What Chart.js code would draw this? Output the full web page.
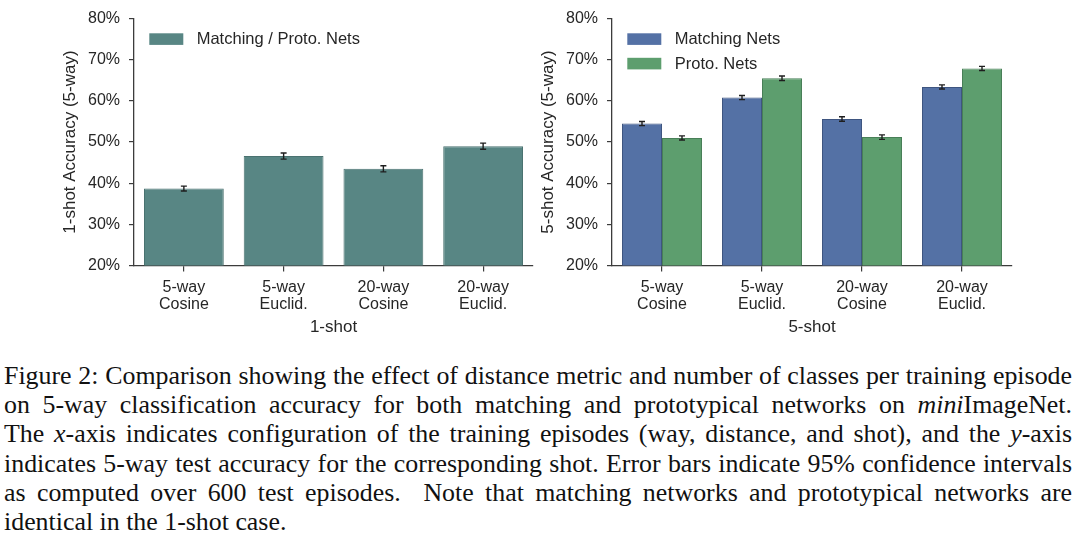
<!DOCTYPE html>
<html>
<head>
<meta charset="utf-8">
<script src="https://cdn.jsdelivr.net/npm/chart.js@4"></script>
<style>
  html, body { margin: 0; padding: 0; background: #fff; }
  body { width: 1080px; height: 536px; position: relative; overflow: hidden; }
  .panel { position: absolute; top: 0; }
  #caption {
    position: absolute; left: 4px; top: 361px; width: 1068px;
    font-family: "Liberation Serif", "Times New Roman", serif;
    font-size: 26px; line-height: 29.2px; color: #111;
  }
  #caption div { white-space: nowrap; text-align: justify; text-align-last: justify; }
  #caption div.last { text-align-last: left; }
</style>
</head>
<body>
<div class="panel" style="left:0px"><canvas id="left" width="540" height="342"></canvas></div>
<div class="panel" style="left:530px"><canvas id="right" width="550" height="342"></canvas></div>
<div id="caption">
  <div>Figure 2: Comparison showing the effect of distance metric and number of classes per training episode</div>
  <div>on 5-way classification accuracy for both matching and prototypical networks on <i>mini</i>ImageNet.</div>
  <div>The <i>x</i>-axis indicates configuration of the training episodes (way, distance, and shot), and the <i>y</i>-axis</div>
  <div>indicates 5-way test accuracy for the corresponding shot. Error bars indicate 95% confidence intervals</div>
  <div>as computed over 600 test episodes.&nbsp; Note that matching networks and prototypical networks are</div>
  <div class="last">identical in the 1-shot case.</div>
</div>
<script>
// values (percent)
const categories = [['5-way', 'Cosine'], ['5-way', 'Euclid.'], ['20-way', 'Cosine'], ['20-way', 'Euclid.']];
const oneShotAcc = [38.7, 46.6, 43.5, 49.0];
const oneShotErr = [0.6, 0.75, 0.75, 0.75];
const matchingAcc = [54.5, 60.8, 55.6, 63.4];
const matchingErr = [0.5, 0.5, 0.55, 0.5];
const protoAcc = [51.0, 65.5, 51.2, 67.9];
const protoErr = [0.5, 0.55, 0.55, 0.5];
const yMin = 20, yMax = 80, yStep = 10;

const textColor = '#262626';
const axisColor = '#3c3c3c';
const sansFont = "'Liberation Sans', Arial, sans-serif";

// draws the 95% CI whiskers on top of each bar
const errorBars = {
    id: 'errorBars',
    afterDatasetsDraw(chart) {
        const ctx = chart.ctx;
        const y = chart.scales.y;
        ctx.save();
        ctx.strokeStyle = '#1e1e1e';
        ctx.lineWidth = 1.4;
        chart.data.datasets.forEach((ds, i) => {
            chart.getDatasetMeta(i).data.forEach((bar, j) => {
                const top = y.getPixelForValue(ds.data[j] + ds.errors[j]);
                const bot = y.getPixelForValue(ds.data[j] - ds.errors[j]);
                ctx.beginPath();
                ctx.moveTo(bar.x, top); ctx.lineTo(bar.x, bot);
                ctx.moveTo(bar.x - 3, top); ctx.lineTo(bar.x + 3, top);
                ctx.moveTo(bar.x - 3, bot); ctx.lineTo(bar.x + 3, bot);
                ctx.stroke();
            });
        });
        ctx.restore();
    }
};

// legend inside the plot, top-left, like matplotlib
const innerLegend = {
    id: 'innerLegend',
    afterDraw(chart) {
        const ctx = chart.ctx;
        const area = chart.chartArea;
        ctx.save();
        chart.data.datasets.forEach((ds, i) => {
            const bx = area.left + 15.3;
            const by = area.top + 14.7 + i * 24.5;
            ctx.fillStyle = ds.backgroundColor;
            ctx.fillRect(bx, by, 34, 11.6);
            ctx.fillStyle = textColor;
            ctx.font = '16.5px ' + sansFont;
            ctx.textBaseline = 'alphabetic';
            ctx.fillText(ds.label, area.left + 62.7, area.top + 25.7 + i * 24.5);
        });
        ctx.restore();
    }
};

function makeOptions(shotLabel, padLeft, padRight) {
    return {
        responsive: false,
        animation: false,
        layout: { padding: { left: padLeft, right: padRight, top: 17, bottom: 0 } },
        plugins: { legend: { display: false }, tooltip: { enabled: false } },
        scales: {
            x: {
                grid: { drawOnChartArea: false, drawTicks: true, tickLength: 6, offset: false, color: axisColor, lineWidth: 1.2 },
                border: { display: true, color: axisColor, width: 1.3 },
                ticks: { color: textColor, font: { family: sansFont, size: 16, lineHeight: 1.1 }, padding: 7, maxRotation: 0 },
                title: { display: true, text: shotLabel, color: textColor, font: { family: sansFont, size: 17 } },
                afterFit(s) { s.height = 76.5; }
            },
            y: {
                min: yMin, max: yMax,
                grid: { drawOnChartArea: false, drawTicks: true, tickLength: 5, color: axisColor, lineWidth: 1.2 },
                border: { display: true, color: axisColor, width: 1.3 },
                ticks: { stepSize: yStep, color: textColor, font: { family: sansFont, size: 16 }, padding: 9,
                         callback: v => v + '%' },
                title: { display: true, text: shotLabel + ' Accuracy (5-way)', color: textColor, font: { family: sansFont, size: 17 } },
                afterFit(s) { s.width = 78; }
            }
        }
    };
}

// shrink the caption font if a justified line would not fit its box
function fitCaption() {
    const cap = document.getElementById('caption');
    const size = parseFloat(getComputedStyle(cap).fontSize);
    let widest = 0;
    cap.querySelectorAll('div').forEach(d => {
        const probe = document.createElement('span');
        probe.innerHTML = d.innerHTML;
        probe.style.whiteSpace = 'nowrap';
        probe.style.position = 'absolute';
        probe.style.visibility = 'hidden';
        cap.appendChild(probe);
        widest = Math.max(widest, probe.getBoundingClientRect().width);
        cap.removeChild(probe);
    });
    if (widest > 1064) {
        cap.style.fontSize = (size * 1064 / widest).toFixed(2) + 'px';
    }
}

window.onload = function() {
    fitCaption();

    var left = document.getElementById('left').getContext('2d');
    new Chart(left, {
        type: 'bar',
        data: {
            labels: categories,
            datasets: [{
                label: 'Matching / Proto. Nets',
                data: oneShotAcc,
                errors: oneShotErr,
                backgroundColor: '#588684',
                borderColor: '#4a7270',
                borderWidth: 1,
                barPercentage: 0.8,
                categoryPercentage: 1.0
            }]
        },
        options: makeOptions('1-shot', 56, 7),
        plugins: [errorBars, innerLegend]
    });

    var right = document.getElementById('right').getContext('2d');
    new Chart(right, {
        type: 'bar',
        data: {
            labels: categories,
            datasets: [{
                label: 'Matching Nets',
                data: matchingAcc,
                errors: matchingErr,
                backgroundColor: '#5471a5',
                borderColor: '#3e5580',
                borderWidth: 1,
                barPercentage: 1.0,
                categoryPercentage: 0.8
            }, {
                label: 'Proto. Nets',
                data: protoAcc,
                errors: protoErr,
                backgroundColor: '#5d9e6e',
                borderColor: '#487f57',
                borderWidth: 1,
                barPercentage: 1.0,
                categoryPercentage: 0.8
            }]
        },
        options: makeOptions('5-shot', 4, 68),
        plugins: [errorBars, innerLegend]
    });
};
</script>
</body>
</html>
